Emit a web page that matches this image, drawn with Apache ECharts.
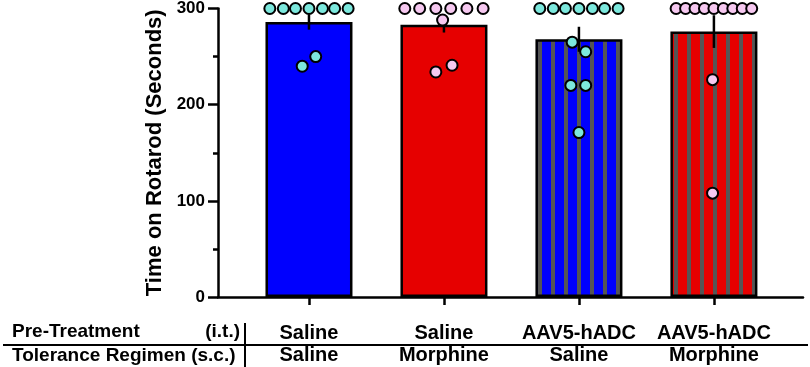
<!DOCTYPE html>
<html>
<head>
<meta charset="utf-8">
<script src="https://cdn.jsdelivr.net/npm/echarts@6/dist/echarts.min.js"></script>
<style>
  html, body { margin: 0; padding: 0; background: #fff; }
  #chart1 { width: 810px; height: 367px; }
</style>
</head>
<body>
<div id="chart1"></div>
<script>
// groups along the x axis (1..4)
var preTreatment = ['Saline', 'Saline', 'AAV5-hADC', 'AAV5-hADC'];
var toleranceRegimen = ['Saline', 'Morphine', 'Saline', 'Morphine'];
var groupPos = [1, 2, 3, 4];

// bar means and SEM (seconds)
var means = [286, 283, 268, 276];
var sems = [8, 8, 13, 17];

// individual animals: [x position (group units), seconds]
var pointsSalSal = [[0.71, 300], [0.81, 300], [0.9, 300], [1, 300], [1.1, 300], [1.19, 300], [1.29, 300], [0.95, 240], [1.05, 250]];
var pointsSalMor = [[1.71, 300], [1.82, 300], [1.94, 300], [2.05, 300], [2.17, 300], [2.29, 300], [1.99, 288], [1.94, 234], [2.06, 241]];
var pointsAavSal = [[2.71, 300], [2.81, 300], [2.9, 300], [3, 300], [3.1, 300], [3.19, 300], [3.29, 300], [2.95, 265], [3.05, 255], [2.94, 220], [3.05, 220], [3, 171]];
var pointsAavMor = [[3.72, 300], [3.79, 300], [3.86, 300], [3.93, 300], [4, 300], [4.07, 300], [4.14, 300], [4.21, 300], [4.28, 300], [3.99, 226], [3.99, 108]];

var yTicks = [0, 100, 200, 300];

_initChart();

// vertical grey stripes over a base colour, 13px period
function stripes (base, phase) {
    var c = document.createElement('canvas');
    c.width = 13;
    c.height = 13;
    var ctx = c.getContext('2d');
    ctx.fillStyle = base;
    ctx.fillRect(0, 0, 13, 13);
    ctx.fillStyle = '#555555';
    ctx.fillRect(phase, 0, 4, 13);
    ctx.fillRect(phase - 13, 0, 4, 13);
    return { image: c, repeat: 'repeat' };
}

function _initChart () {
    var myChart = echarts.init(document.getElementById('chart1'));
    var fills = ['#0000fe', '#e60000', stripes('#0000fe', 5), stripes('#e60000', 11)];
    var barData = groupPos.map(function (x, i) {
        return {
            value: [x, means[i]],
            itemStyle: { color: fills[i] }
        };
    });
    var errData = groupPos.map(function (x, i) {
        return [x, means[i] - sems[i], means[i] + sems[i]];
    });
    var font = '"Liberation Sans", Arial, sans-serif';

    function dots (data, color) {
        return {
            type: 'scatter',
            data: data,
            symbolSize: 11,
            z: 5,
            itemStyle: { color: color, borderColor: '#000', borderWidth: 2, opacity: 1 }
        };
    }

    var option = {
        animation: false,
        grid: { left: 218, right: 7, top: 8, bottom: 70 },
        xAxis: {
            type: 'value',
            min: 0.326,
            max: 4.66,
            axisLine: { lineStyle: { color: '#000', width: 2.5 } },
            axisTick: { customValues: groupPos, length: 8, lineStyle: { color: '#000', width: 2.5 } },
            splitLine: { show: false },
            axisLabel: {
                customValues: groupPos,
                margin: 25,
                color: '#000',
                fontFamily: font,
                fontWeight: 'bold',
                fontSize: 20,
                lineHeight: 22,
                formatter: function (v) {
                    var i = Math.round(v) - 1;
                    return preTreatment[i] + '\n' + toleranceRegimen[i];
                }
            }
        },
        yAxis: {
            type: 'value',
            min: 0,
            max: 300,
            interval: 100,
            name: 'Time on Rotarod (Seconds)',
            nameLocation: 'middle',
            nameGap: 44,
            nameTextStyle: { color: '#000', fontFamily: font, fontWeight: 'bold', fontSize: 22 },
            axisLine: { show: true, lineStyle: { color: '#000', width: 2.5 } },
            axisTick: { show: true, length: 10, lineStyle: { color: '#000', width: 2.5 } },
            minorTick: { show: true, splitNumber: 2, length: 5, lineStyle: { color: '#000', width: 2.5 } },
            splitLine: { show: false },
            axisLabel: { margin: 13, color: '#000', fontFamily: font, fontWeight: 'bold', fontSize: 17 }
        },
        graphic: [
            { type: 'text', x: 12, y: 332, style: { text: 'Pre-Treatment', font: 'bold 19px ' + font, fill: '#000', verticalAlign: 'middle' } },
            { type: 'text', x: 240, y: 332, style: { text: '(i.t.)', font: 'bold 19px ' + font, fill: '#000', align: 'right', verticalAlign: 'middle' } },
            { type: 'text', x: 12, y: 356, style: { text: 'Tolerance Regimen (s.c.)', font: 'bold 19px ' + font, fill: '#000', verticalAlign: 'middle' } },
            { type: 'line', shape: { x1: 3, y1: 345, x2: 808, y2: 345 }, style: { stroke: '#000', lineWidth: 2 } },
            { type: 'line', shape: { x1: 245, y1: 323, x2: 245, y2: 367 }, style: { stroke: '#000', lineWidth: 2 } }
        ],
        series: [
            {
                type: 'bar',
                data: barData,
                barWidth: 87,
                itemStyle: { borderColor: '#000', borderWidth: 2.5 },
                z: 2
            },
            {
                type: 'custom',
                data: errData,
                z: 3,
                renderItem: function (params, api) {
                    var lo = api.coord([api.value(0), api.value(1)]);
                    var hi = api.coord([api.value(0), api.value(2)]);
                    return {
                        type: 'line',
                        shape: { x1: lo[0], y1: lo[1], x2: hi[0], y2: hi[1] },
                        style: { stroke: '#000', lineWidth: 2.5 }
                    };
                }
            },
            dots(pointsSalSal, '#7ce8dd'),
            dots(pointsSalMor, '#f6c8f0'),
            dots(pointsAavSal, '#7ce8dd'),
            dots(pointsAavMor, '#f6c8f0')
        ]
    };
    myChart.setOption(option);
    // 根据屏幕自适应
    window.onresize = myChart.resize;
}
</script>
</body>
</html>
